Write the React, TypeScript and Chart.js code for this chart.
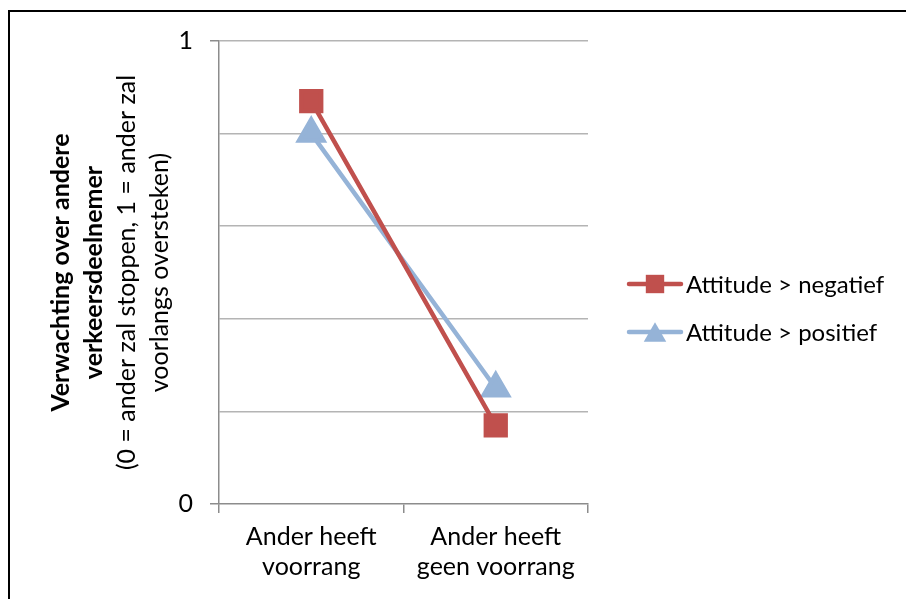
import React, { useEffect, useRef } from 'react';
import { Chart, registerables } from 'chart.js';

Chart.register(...registerables);

const categories = [['Ander heeft', 'voorrang'], ['Ander heeft', 'geen voorrang']];
const negatief = [0.87, 0.17];
const positief = [0.80, 0.25];
const seriesLabels = ['Attitude > negatief', 'Attitude > positief'];
const yShownTicks = [0, 1];
const yTitleBold = ['Verwachting over andere', 'verkeersdeelnemer'];
const yTitleNormal = ['(0 = ander zal stoppen, 1 = ander zal', 'voorlangs oversteken)'];

const FONT = 'Lato, "Open Sans", sans-serif';
const RED = '#C0504D';
const BLUE = '#95B3D7';
const GRID = '#B4B4B4';
const AXIS = '#8C8C8C';
const colors = [RED, BLUE];
const styles = ['rect', 'triangle'];

function drawMarker(ctx: CanvasRenderingContext2D, style: string, x: number, y: number, r: number) {
  ctx.beginPath();
  if (style === 'rect') {
    const s = Math.SQRT1_2 * r;
    ctx.rect(x - s, y - s, 2 * s, 2 * s);
  } else {
    const h = r * Math.sqrt(3) / 2;
    ctx.moveTo(x, y - r * 0.75);
    ctx.lineTo(x + h, y + r * 0.75);
    ctx.lineTo(x - h, y + r * 0.75);
    ctx.closePath();
  }
  ctx.fill();
}

const decor = {
  id: 'decor',
  beforeDraw(chart: any) {
    const ctx = chart.ctx as CanvasRenderingContext2D;
    ctx.save();
    ctx.fillStyle = '#fff';
    ctx.fillRect(0, 0, chart.width, chart.height);
    ctx.fillStyle = '#000';
    ctx.fillRect(8, 10, 2, chart.height - 10);
    ctx.fillRect(8, 10, chart.width - 8, 2);
    ctx.restore();
  },
  afterDraw(chart: any) {
    const ctx = chart.ctx as CanvasRenderingContext2D;
    const ca = chart.chartArea;
    // y-axis title
    ctx.save();
    ctx.translate(0, (ca.top + ca.bottom) / 2);
    ctx.rotate(-Math.PI / 2);
    ctx.textAlign = 'center';
    ctx.textBaseline = 'middle';
    ctx.fillStyle = '#000';
    const xs = [61, 94, 127, 160];
    ctx.font = 'bold 25px ' + FONT;
    yTitleBold.forEach((t, i) => ctx.fillText(t, 0, xs[i]));
    ctx.font = '25px ' + FONT;
    yTitleNormal.forEach((t, i) => ctx.fillText(t, 0, xs[i + 2]));
    ctx.restore();
    // legend
    ctx.save();
    seriesLabels.forEach((label, i) => {
      const y = 284 + i * 48;
      ctx.strokeStyle = colors[i];
      ctx.fillStyle = colors[i];
      ctx.lineWidth = 4.5;
      ctx.lineCap = 'round';
      ctx.beginPath();
      ctx.moveTo(629, y);
      ctx.lineTo(681, y);
      ctx.stroke();
      drawMarker(ctx, styles[i], 655, y, 13);
      ctx.fillStyle = '#000';
      ctx.font = '24px ' + FONT;
      ctx.textAlign = 'left';
      ctx.textBaseline = 'middle';
      ctx.fillText(label, 686, y + 1);
    });
    ctx.restore();
  },
};

export default function App() {
  const ref = useRef<HTMLCanvasElement>(null);
  useEffect(() => {
    if (!ref.current) return;
    const chart = new Chart(ref.current, {
      type: 'line',
      data: {
        labels: categories as any,
        datasets: [
          {
            label: seriesLabels[0],
            data: negatief,
            borderColor: RED,
            backgroundColor: RED,
            pointBackgroundColor: RED,
            pointBorderColor: RED,
            pointStyle: 'rect',
            pointRadius: 14,
            borderWidth: 4.5,
            borderCapStyle: 'round',
          },
          {
            label: seriesLabels[1],
            data: positief,
            borderColor: BLUE,
            backgroundColor: BLUE,
            pointBackgroundColor: BLUE,
            pointBorderColor: BLUE,
            pointStyle: 'triangle',
            pointRadius: 14,
            borderWidth: 4.5,
            borderCapStyle: 'round',
          },
        ],
      },
      options: {
        responsive: false,
        animation: false,
        events: [],
        layout: { padding: { top: 41, right: 318, left: 0, bottom: 0 } },
        plugins: { legend: { display: false }, tooltip: { enabled: false } },
        scales: {
          x: {
            offset: true,
            afterFit: (s: any) => { s.height = 95; },
            grid: {
              offset: true,
              drawOnChartArea: false,
              drawTicks: true,
              tickLength: 9,
              tickColor: AXIS,
              lineWidth: 1.5,
            },
            border: { color: AXIS, width: 1.5 },
            ticks: {
              color: '#000',
              font: { family: FONT, size: 25, lineHeight: 1.2 },
              padding: 9,
              maxRotation: 0,
              autoSkip: false,
            },
          },
          y: {
            min: 0,
            max: 1,
            afterFit: (s: any) => { s.width = 219; },
            grid: {
              color: (c: any) => (c.tick && Math.abs(c.tick.value) < 1e-9 ? 'rgba(0,0,0,0)' : GRID),
              tickColor: (c: any) =>
                c.tick && yShownTicks.some((v) => Math.abs(v - c.tick.value) < 1e-9) ? AXIS : 'rgba(0,0,0,0)',
              tickLength: 9,
              lineWidth: 1.5,
            },
            border: { color: AXIS, width: 1.5 },
            ticks: {
              stepSize: 0.2,
              color: '#000',
              padding: 17,
              font: { family: FONT, size: 25 },
              callback: (v: any) => (yShownTicks.some((t) => Math.abs(t - Number(v)) < 1e-9) ? String(Math.round(Number(v))) : ''),
            },
          },
        },
      },
      plugins: [decor],
    });
    return () => chart.destroy();
  }, []);
  return (
    <div style={{ position: 'fixed', left: 0, top: 0, width: 906, height: 599, overflow: 'hidden', background: '#fff' }}>
      <canvas ref={ref} width={906} height={599} style={{ display: 'block' }} />
    </div>
  );
}
